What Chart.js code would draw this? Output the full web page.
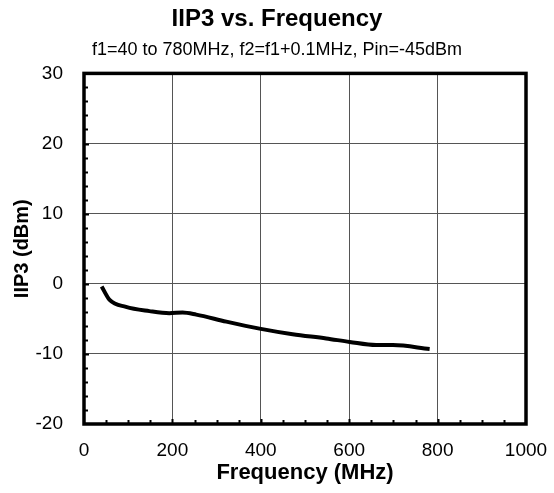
<!DOCTYPE html>
<html>
<head>
<meta charset="utf-8">
<script src="https://cdn.jsdelivr.net/npm/chart.js@4/dist/chart.umd.min.js"></script>
<style>
  html, body { margin: 0; padding: 0; background: #fff; }
  #wrap { width: 554px; height: 493px; }
</style>
</head>
<body>
<div id="wrap"><canvas id="myChart" width="554" height="493"></canvas></div>
<script>
// values
var freqMHz = [40, 58, 95, 148, 193, 223, 254, 322, 397, 472, 548, 601, 661, 699, 782];
var iip3dBm = [-0.4, -2.3, -3.3, -3.9, -4.2, -4.1, -4.4, -5.4, -6.4, -7.2, -7.8, -8.3, -8.75, -8.75, -9.3];

var xTicks = [0, 200, 400, 600, 800, 1000];
var yTicks = [-20, -10, 0, 10, 20, 30];

var titleText = "IIP3 vs. Frequency";
var subtitleText = "f1=40 to 780MHz, f2=f1+0.1MHz, Pin=-45dBm";

var pts = [];
for (let i = 0; i < freqMHz.length; i++) {
    pts.push({ x: freqMHz[i], y: iip3dBm[i] });
}

// frame + inward minor ticks
var framePlugin = {
    id: "frame",
    afterDraw: function (chart) {
        var ctx = chart.ctx;
        var a = chart.chartArea;
        var xs = chart.scales.x, ys = chart.scales.y;
        ctx.save();
        ctx.strokeStyle = "#000";
        ctx.lineWidth = 2;
        for (let v = 50; v < 1000; v += 50) {
            var px = Math.round(xs.getPixelForValue(v)) + 0.5;
            ctx.beginPath();
            ctx.moveTo(px, a.bottom);
            ctx.lineTo(px, a.bottom - (v % 200 == 0 ? 5 : 4));
            ctx.stroke();
        }
        for (let v = -18; v < 30; v += 2) {
            var py = Math.round(ys.getPixelForValue(v)) + 0.5;
            ctx.beginPath();
            ctx.moveTo(a.left, py);
            ctx.lineTo(a.left + (v % 10 == 0 ? 5 : 4), py);
            ctx.stroke();
        }
        ctx.lineWidth = 3.5;
        ctx.strokeRect(a.left, a.top, a.right - a.left, a.bottom - a.top);
        ctx.restore();
    },
};

var config = {
    type: "scatter",
    data: {
        datasets: [
            {
                data: pts,
                showLine: true,
                borderColor: "#000",
                borderWidth: 4,
                pointRadius: 0,
                cubicInterpolationMode: "monotone",
            },
        ],
    },
    options: {
        responsive: false,
        animation: false,
        layout: { padding: 0 },
        plugins: {
            legend: { display: false },
            tooltip: { enabled: false },
            title: {
                display: true,
                text: titleText,
                color: "#000",
                font: { family: "Liberation Sans", size: 24, weight: "bold" },
                padding: { top: 5, bottom: 5 },
            },
            subtitle: {
                display: true,
                text: subtitleText,
                color: "#000",
                font: { family: "Liberation Sans", size: 18 },
                padding: { top: 0, bottom: 13 },
            },
        },
        scales: {
            x: {
                type: "linear",
                min: 0,
                max: 1000,
                afterBuildTicks: function (s) {
                    s.ticks = xTicks.map(function (v) { return { value: v }; });
                },
                afterFit: function (s) {
                    s.height = 69;
                    s.paddingRight = 28;
                },
                grid: { color: "#555", lineWidth: 1, drawTicks: false },
                border: { display: false },
                ticks: {
                    color: "#000",
                    padding: 15,
                    maxRotation: 0,
                    font: { family: "Liberation Sans", size: 19 },
                    callback: function (v) { return String(v); },
                },
                title: {
                    display: true,
                    text: "Frequency (MHz)",
                    color: "#000",
                    font: { family: "Liberation Sans", size: 22, weight: "bold" },
                    padding: { top: 0, bottom: 7 },
                },
            },
            y: {
                min: -20,
                max: 30,
                afterBuildTicks: function (s) {
                    s.ticks = yTicks.map(function (v) { return { value: v }; });
                },
                afterFit: function (s) { s.width = 84; },
                grid: { color: "#555", lineWidth: 1, drawTicks: false },
                border: { display: false },
                ticks: {
                    color: "#000",
                    padding: 21,
                    font: { family: "Liberation Sans", size: 19 },
                    callback: function (v) { return String(v); },
                },
                title: {
                    display: true,
                    text: "IIP3 (dBm)",
                    color: "#000",
                    font: { family: "Liberation Sans", size: 20, weight: "bold" },
                    padding: { top: 10, bottom: 0 },
                },
            },
        },
    },
    plugins: [framePlugin],
};

var ctx = document.getElementById("myChart").getContext("2d");
var myChart = new Chart(ctx, config);
</script>
</body>
</html>
